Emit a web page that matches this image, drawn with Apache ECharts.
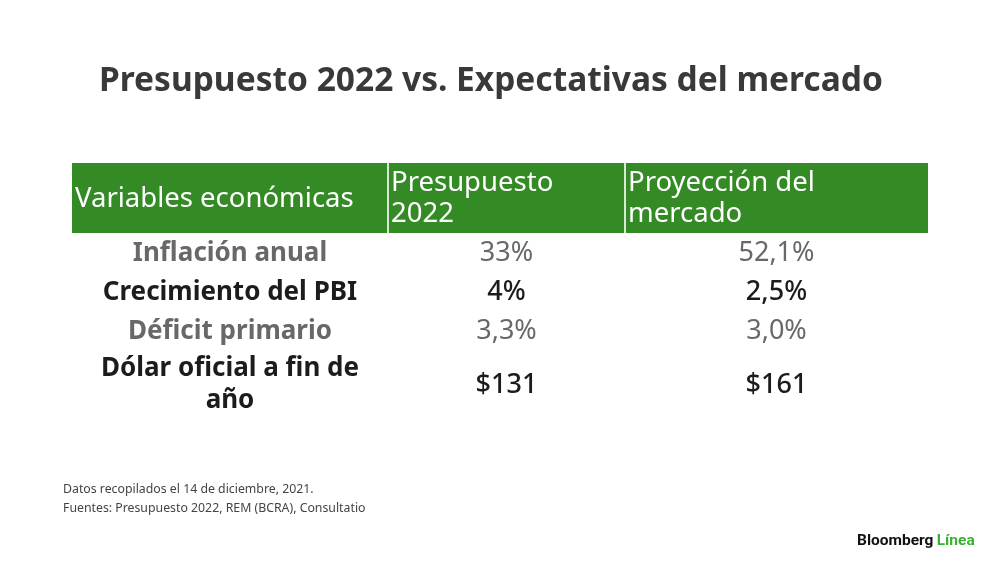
<!DOCTYPE html>
<html lang="es">
<head>
    <meta charset="utf-8">
    <title>Presupuesto 2022 vs. Expectativas del mercado</title>
    <script src="https://cdn.jsdelivr.net/npm/echarts@6/dist/echarts.min.js"></script>
    <style>
        html, body { margin: 0; padding: 0; background: #fff; }
        #chart { width: 1000px; height: 562px; }
    </style>
</head>
<body>
<div id="chart"></div>
<script>
    // datos de la tabla
    var columns = ['Variables económicas', 'Presupuesto\n2022', 'Proyección del\nmercado'];
    var variables = ['Inflación anual', 'Crecimiento del PBI', 'Déficit primario', 'Dólar oficial a fin de\naño'];
    var presupuesto = ['33%', '4%', '3,3%', '$131'];
    var mercado = ['52,1%', '2,5%', '3,0%', '$161'];

    var FONT = 'Noto Sans';
    var GREEN = '#348b26';
    var GRAY = '#686868';
    var DARK = '#1c1c1c';

    // ancho de columnas (px) y alto de filas segun lineas de texto
    var colWidths = [316, 237, 303];
    var colStart = [0];
    for (var i = 0; i < colWidths.length; i++) colStart.push(colStart[i] + colWidths[i]);

    var rows = [columns].concat(variables.map(function (v, i) { return [v, presupuesto[i], mercado[i]]; }));
    var rowStart = [0];
    rows.forEach(function (r, i) {
        var lines = Math.max.apply(null, r.map(function (t) { return t.split('\n').length; }));
        var h = i === 0 ? 70 : (lines > 1 ? 68 : 39);
        rowStart.push(rowStart[i] + h);
    });
    var totalH = rowStart[rowStart.length - 1];
    var totalW = colStart[colStart.length - 1];

    var cells = [];
    rows.forEach(function (r, ri) {
        r.forEach(function (t, ci) { cells.push([ci, ri, t]); });
    });

    var chart = echarts.init(document.getElementById('chart'));

    function renderCell(params, api) {
        var ci = api.value(0), ri = api.value(1);
        var text = cells[params.dataIndex][2];
        var p0 = api.coord([colStart[ci], rowStart[ri]]);
        var p1 = api.coord([colStart[ci + 1], rowStart[ri + 1]]);
        var w = p1[0] - p0[0], h = p1[1] - p0[1];
        var children = [];
        if (ri === 0) {
            children.push({
                type: 'rect',
                shape: { x: p0[0], y: p0[1], width: w, height: h },
                style: { fill: GREEN }
            });
            if (ci > 0) {
                children.push({
                    type: 'rect',
                    shape: { x: p0[0] - 1, y: p0[1], width: 2, height: h },
                    style: { fill: '#d9ead3' }
                });
            }
            children.push({
                type: 'text',
                style: {
                    x: p0[0] + 3, y: p0[1] + h / 2 + 1,
                    text: text, fill: '#fff',
                    font: '400 27.5px "' + FONT + '"',
                    lineHeight: 31,
                    align: 'left', verticalAlign: 'middle'
                }
            });
        } else {
            var dark = ri % 2 === 0;
            var weight = ci === 0 ? 700 : (dark ? 500 : 400);
            children.push({
                type: 'text',
                style: {
                    x: p0[0] + w / 2, y: p0[1] + h / 2 + 1,
                    text: text, fill: dark ? DARK : GRAY,
                    font: weight + ' ' + (ci === 0 ? 26 : 27) + 'px "' + FONT + '"',
                    lineHeight: 32,
                    align: 'center', verticalAlign: 'middle'
                }
            });
        }
        return { type: 'group', children: children };
    }

    var option = {
        backgroundColor: '#fff',
        animation: false,
        title: {
            text: 'Presupuesto 2022 vs. Expectativas del mercado',
            left: 94,
            top: 59,
            textStyle: { fontFamily: FONT, fontSize: 33.5, fontWeight: 'bold', color: '#393939' }
        },
        grid: { left: 72, top: 163, width: totalW, height: totalH },
        xAxis: { type: 'value', min: 0, max: totalW, show: false },
        yAxis: { type: 'value', min: 0, max: totalH, inverse: true, show: false },
        series: [{
            type: 'custom',
            renderItem: renderCell,
            data: cells.map(function (c) { return [c[0], c[1]]; }),
            silent: true
        }],
        graphic: [
            {
                type: 'text', left: 63, top: 480,
                style: {
                    text: 'Datos recopilados el 14 de diciembre, 2021.\nFuentes: Presupuesto 2022, REM (BCRA), Consultatio',
                    font: '12.3px "' + FONT + '"', fill: '#444', lineHeight: 19
                }
            },
            {
                type: 'text', left: 857, top: 533,
                style: {
                    text: '{a|Bloomberg} {b|Línea}',
                    rich: {
                        a: { fontFamily: 'Roboto', fontWeight: 'bold', fontSize: 15.5, fill: '#111' },
                        b: { fontFamily: 'Roboto', fontWeight: 'bold', fontSize: 15.5, fill: '#3cb034' }
                    }
                }
            }
        ]
    };
    chart.setOption(option);
</script>
</body>
</html>
